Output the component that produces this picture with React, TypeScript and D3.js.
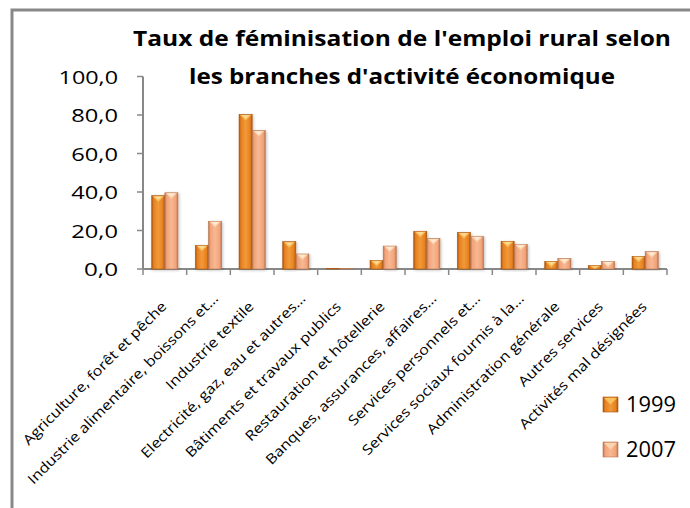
import React from "react";
import * as d3 from "d3";

const categories = [
  "Agriculture, forêt et pêche",
  "Industrie alimentaire, boissons et…",
  "Industrie textile",
  "Electricité, gaz, eau et autres…",
  "Bâtiments et travaux publics",
  "Restauration et hôtellerie",
  "Banques, assurances, affaires…",
  "Services personnels et…",
  "Services sociaux fournis à la…",
  "Administration générale",
  "Autres services",
  "Activités mal désignées",
];
const values1999 = [38.1, 12.3, 80.3, 14.2, 0.4, 4.5, 19.6, 19.0, 14.4, 4.0, 1.9, 6.6];
const values2007 = [39.6, 24.8, 71.9, 7.8, 0.3, 11.9, 15.8, 17.0, 12.8, 5.5, 4.0, 9.0];
const seriesNames = ["1999", "2007"];
const yTicks = [0, 20, 40, 60, 80, 100];
const titleLines = ["Taux de féminisation de l'emploi rural selon", "les branches d'activité économique"];

const FONT = "'Open Sans', Lato, sans-serif";

export default function App() {
  const W = 690, H = 508;
  const x0 = 143, x1 = 667, yTop = 76.5, yBot = 269;
  const x = d3.scaleBand<number>().domain(d3.range(categories.length)).range([x0, x1]).paddingInner(0.4).paddingOuter(0.2);
  const xOuter = d3.scaleBand<number>().domain(d3.range(categories.length)).range([x0, x1]);
  const xs = d3.scaleBand<number>().domain([0, 1]).range([0, x.bandwidth()]);
  const y = d3.scaleLinear().domain([0, 100]).range([yBot, yTop]);
  const fmt = (v: number) => v.toFixed(1).replace(".", ",");
  const series = [values1999, values2007];
  const colors = [
    { id: "g0", edge: "#a85510", mid: "#e8801e", light: "#f09a3a", tri: "#f8c060", hi: "#fde0a0" },
    { id: "g1", edge: "#b87650", mid: "#f2a37a", light: "#f7b892", tri: "#fcd4b0", hi: "#fff0dc" },
  ];
  const bw = xs.bandwidth();

  return (
    <svg width={W} height={H} style={{ position: "absolute", left: 0, top: 0, background: "#fff" }}>
      <defs>
        {colors.map((c) => (
          <linearGradient key={c.id} id={c.id} x1="0" x2="1" y1="0" y2="0">
            <stop offset="0" stopColor={c.edge} />
            <stop offset="0.15" stopColor={c.mid} />
            <stop offset="0.5" stopColor={c.light} />
            <stop offset="0.85" stopColor={c.mid} />
            <stop offset="1" stopColor={c.edge} />
          </linearGradient>
        ))}
        <filter id="sh" x="-30%" y="-10%" width="160%" height="120%">
          <feGaussianBlur in="SourceAlpha" stdDeviation="1.5" />
          <feOffset dx="1" dy="1" />
          <feComponentTransfer><feFuncA type="linear" slope="0.25" /></feComponentTransfer>
          <feMerge><feMergeNode /><feMergeNode in="SourceGraphic" /></feMerge>
        </filter>
      </defs>
      <rect x={12} y={10} width={700} height={520} fill="#fff" stroke="#888" strokeWidth={3} />
      {titleLines.map((t, i) => (
        <text key={i} x={402} y={46 + i * 38} textAnchor="middle" fontFamily={FONT} fontWeight="bold" fontSize={21}
          fill="#000" textLength={i === 0 ? 538 : 426} lengthAdjust="spacingAndGlyphs">{t}</text>
      ))}
      {yTicks.map((t) => {
        const label = fmt(t);
        const digits = label.replace(",", "").length;
        return (
          <g key={t}>
            <line x1={137} x2={143} y1={y(t)} y2={y(t)} stroke="#888" strokeWidth={1.5} />
            <text x={118} y={y(t) + 7} textAnchor="end" fontFamily={FONT} fontSize={19} fill="#000"
              textLength={12.7 * digits + 8.6} lengthAdjust="spacingAndGlyphs">{label}</text>
          </g>
        );
      })}
      <line x1={x0} x2={x0} y1={yTop} y2={yBot} stroke="#888" strokeWidth={2} />
      <line x1={x0} x2={x1} y1={yBot} y2={yBot} stroke="#888" strokeWidth={2} />
      {d3.range(categories.length + 1).map((i) => {
        const xx = i < categories.length ? xOuter(i)! : x1;
        return <line key={i} x1={xx} x2={xx} y1={yBot} y2={yBot + 6} stroke="#888" strokeWidth={1.5} />;
      })}
      {categories.map((_, ci) =>
        series.map((vals, si) => {
          const c = colors[si];
          const bx = x(ci)! + xs(si)!;
          const by = y(vals[ci]);
          const h = yBot - by;
          const triH = Math.min(6, h);
          return (
            <g key={`${ci}-${si}`} filter="url(#sh)">
              <rect x={bx} y={by} width={bw} height={h} fill={`url(#${c.id})`} stroke={c.edge} strokeWidth={0.6} />
              {h > 2 && (
                <path d={`M${bx + 1},${by + 0.5} L${bx + bw - 1},${by + 0.5} L${bx + bw / 2},${by + triH} Z`} fill={c.tri} />
              )}
              {h > 2 && (
                <path d={`M${bx + 3},${by + 0.8} L${bx + bw - 3},${by + 0.8} L${bx + bw / 2},${by + triH - 2} Z`} fill={c.hi} opacity={0.8} />
              )}
            </g>
          );
        })
      )}
      {categories.map((cat, ci) => {
        const cx = xOuter(ci)! + xOuter.bandwidth() / 2 - 1;
        const cy = yBot + 35;
        const extra = cat.endsWith("…") ? 10 : 0;
        return (
          <text key={cat} transform={`translate(${cx},${cy}) rotate(-45) scale(1.15,1)`} x={extra} dy="0.35em" textAnchor="end" fontFamily={FONT}
            fontSize={14} fill="#000">{cat}</text>
        );
      })}
      {seriesNames.map((s, si) => {
        const c = colors[si];
        const ly = 397 + si * 45;
        return (
          <g key={s}>
            <rect x={603} y={ly} width={15} height={15} fill={`url(#${c.id})`} stroke={c.edge} strokeWidth={0.6} />
            <path d={`M604,${ly + 1} L617,${ly + 1} L610.5,${ly + 7.5} Z`} fill={c.tri} />
            <text x={626} y={ly + 15} fontFamily={FONT} fontSize={21} fill="#000" textLength={50}
              lengthAdjust="spacingAndGlyphs">{s}</text>
          </g>
        );
      })}
    </svg>
  );
}
